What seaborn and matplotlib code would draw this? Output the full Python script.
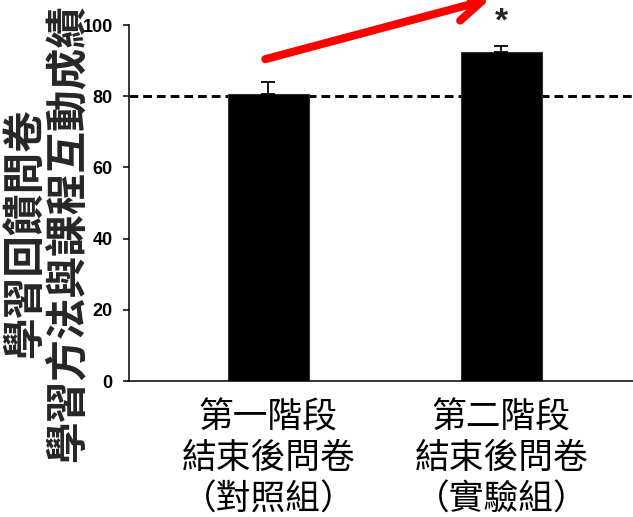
import matplotlib
matplotlib.use("Agg")
import matplotlib.pyplot as plt
import seaborn as sns
import pandas as pd

# Survey scores for the two course stages
stages = ["第一階段\n結束後問卷\n（對照組）", "第二階段\n結束後問卷\n（實驗組）"]
scores = [80.7, 92.5]
sem = [3.4, 1.7]
baseline = 80
yticks = [0, 20, 40, 60, 80, 100]
ylabel = "學習回饋問卷\n學習方法與課程互動成績"
sig_mark = "*"

sns.set_theme(style="ticks")
plt.rcParams["font.family"] = ["Noto Sans CJK TC", "DejaVu Sans"]

df = pd.DataFrame({"stage": stages, "score": scores})

fig = plt.figure(figsize=(6.33, 5.17), dpi=100)
W, H = 633, 517
ax = fig.add_axes([128.5 / W, 136 / H, 512.6 / W, 356 / H])

# reference level
ax.axhline(baseline, color="black", lw=2.1, ls=(0, (3.0, 1.7)), zorder=0.5)

sns.barplot(data=df, x="stage", y="score", color="black", saturation=1,
            width=0.35, edgecolor="#333333", linewidth=0.8, ax=ax, zorder=2)

ax.errorbar(x=[0, 1], y=scores, yerr=[[0, 0], sem], fmt="none",
            ecolor="black", elinewidth=1.3, capsize=4.9, capthick=1.3, zorder=3)

ax.set_xlim(-0.6, 1.6)
ax.set_ylim(0, 100)
ax.set_yticks(yticks)
ax.set_yticklabels([str(v) for v in yticks], fontfamily="Liberation Sans",
                   fontweight="bold", fontsize=13)
ax.tick_params(axis="y", length=4.3, width=1.1, pad=7, colors="black")
ax.tick_params(axis="x", length=0, pad=14)
for lab in ax.get_xticklabels():
    lab.set_fontsize(25)
    lab.set_linespacing(1.22)
    lab.set_color("black")

ax.set_xlabel("")
ax.set_ylabel(ylabel, fontsize=30, fontweight="bold", linespacing=1.0,
              rotation=90, ha="center", va="center", multialignment="center")
ax.yaxis.set_label_coords(-0.16, 0.416)

sns.despine(ax=ax)
for side in ("left", "bottom"):
    ax.spines[side].set_linewidth(1.1)
    ax.spines[side].set_color("black")

# rising-trend arrow and significance mark
ax.annotate("", xy=(0.953, 107.3), xytext=(-0.013, 90.4),
            arrowprops=dict(arrowstyle="->,head_length=0.93,head_width=0.47",
                            color="#ff0000", lw=5.8, shrinkA=0, shrinkB=0,
                            mutation_scale=20, joinstyle="round", capstyle="round"),
            annotation_clip=False)
ax.text(1.0, 98.4, sig_mark, fontsize=24, fontweight="bold",
        fontfamily="Liberation Sans", ha="center", va="baseline", clip_on=False)

fig.savefig("out.png", dpi=100)
